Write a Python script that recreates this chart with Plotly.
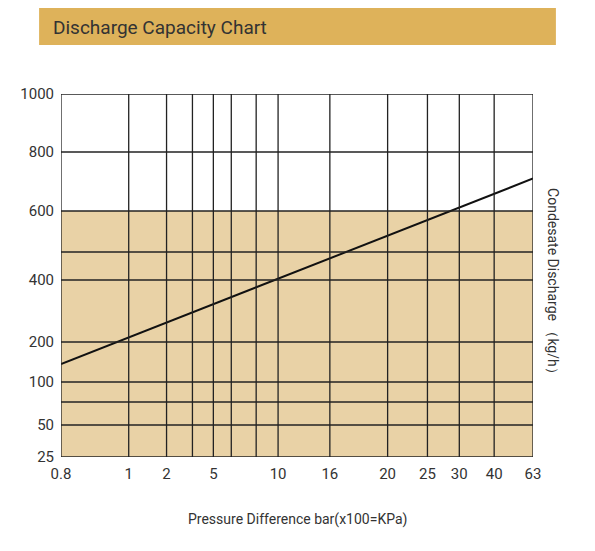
import numpy as np
import plotly.graph_objects as go

# chart's own (non-uniform) scales: tick value -> position along axis
x_tick_vals = [0.8, 1, 2, 3, 5, 6, 8, 10, 16, 20, 25, 30, 40, 63]
x_tick_text = ["0.8", "1", "2", "", "5", "", "", "10", "16", "20", "25", "30", "40", "63"]
x_scale_pos = [59, 127, 165, 191, 212, 230, 255, 277, 329, 387, 427, 459, 494, 533]

y_tick_vals = [25, 50, 75, 100, 200, 400, 500, 600, 800, 1000]
y_tick_text = ["25", "50", "", "100", "200", "400", "", "600", "800", "1000"]
y_scale_pos = [457, 425, 402, 382, 342, 280, 252, 211, 152, 94]

# discharge curve
pressure = [0.8, 63]
discharge = [145, 710]
shade_limit = 600


def xmap(v):
    return np.interp(v, x_tick_vals, x_scale_pos)


def ymap(v):
    return -np.interp(v, y_tick_vals, y_scale_pos)


fig = go.Figure()
fig.add_shape(type="rect", x0=xmap(0.8), x1=xmap(63), y0=ymap(25), y1=ymap(shade_limit),
              fillcolor="#e9d2a6", line_width=0, layer="below")
for v in x_tick_vals:
    fig.add_shape(type="line", x0=xmap(v), x1=xmap(v), y0=ymap(25), y1=ymap(1000),
                  line=dict(color="#222", width=1.3))
for v in y_tick_vals:
    fig.add_shape(type="line", x0=xmap(0.8), x1=xmap(63), y0=ymap(v), y1=ymap(v),
                  line=dict(color="#222", width=1.3))
# tick marks only at labelled values
for v, t in zip(x_tick_vals, x_tick_text):
    if t:
        fig.add_shape(type="line", x0=xmap(v), x1=xmap(v), y0=ymap(25), y1=ymap(25) - 6,
                      line=dict(color="#222", width=1.3))
for v, t in zip(y_tick_vals, y_tick_text):
    if t:
        fig.add_shape(type="line", x0=xmap(0.8) - 6, x1=xmap(0.8), y0=ymap(v), y1=ymap(v),
                      line=dict(color="#222", width=1.3))

fig.add_trace(go.Scatter(x=xmap(pressure), y=ymap(discharge), mode="lines",
                         line=dict(color="#111", width=2), showlegend=False, cliponaxis=False))

fig.add_shape(type="rect", xref="paper", yref="paper", x0=-22/474, x1=(556-59)/474,
              y0=(457-45)/363, y1=(457-8)/363, fillcolor="#deb25a", line_width=0)
fig.add_annotation(xref="paper", yref="paper", x=-10/474, y=(457-27)/363,
                   text="Discharge Capacity Chart", showarrow=False, xanchor="left",
                   yanchor="middle", font=dict(size=19, color="#333"))
fig.add_annotation(xref="paper", yref="paper", x=(553-59)/474, y=(457-285)/363,
                   text="Condesate Discharge （kg/h）", textangle=90, showarrow=False,
                   xanchor="center", yanchor="middle", font=dict(size=14, color="#333"))
fig.add_annotation(xref="paper", yref="paper", x=(296-59)/474, y=(457-519)/363,
                   text="Pressure Difference bar(x100=KPa)", showarrow=False,
                   yanchor="middle", font=dict(size=14, color="#333"))

fig.update_xaxes(range=[xmap(0.8), xmap(63)], tickvals=xmap(x_tick_vals), ticktext=x_tick_text,
                 showgrid=False, zeroline=False, ticks="", ticklabelstandoff=6,
                 tickfont=dict(size=15, color="#333"))
fig.update_yaxes(range=[ymap(25), ymap(1000)], tickvals=ymap(y_tick_vals), ticktext=y_tick_text,
                 showgrid=False, zeroline=False, ticks="", ticklabelstandoff=6,
                 tickfont=dict(size=15, color="#333"))
fig.update_layout(width=595, height=551, margin=dict(l=51, r=70, t=86, b=102),
                  plot_bgcolor="white", paper_bgcolor="white",
                  font=dict(family="Roboto"))
fig.write_html("out.html")
